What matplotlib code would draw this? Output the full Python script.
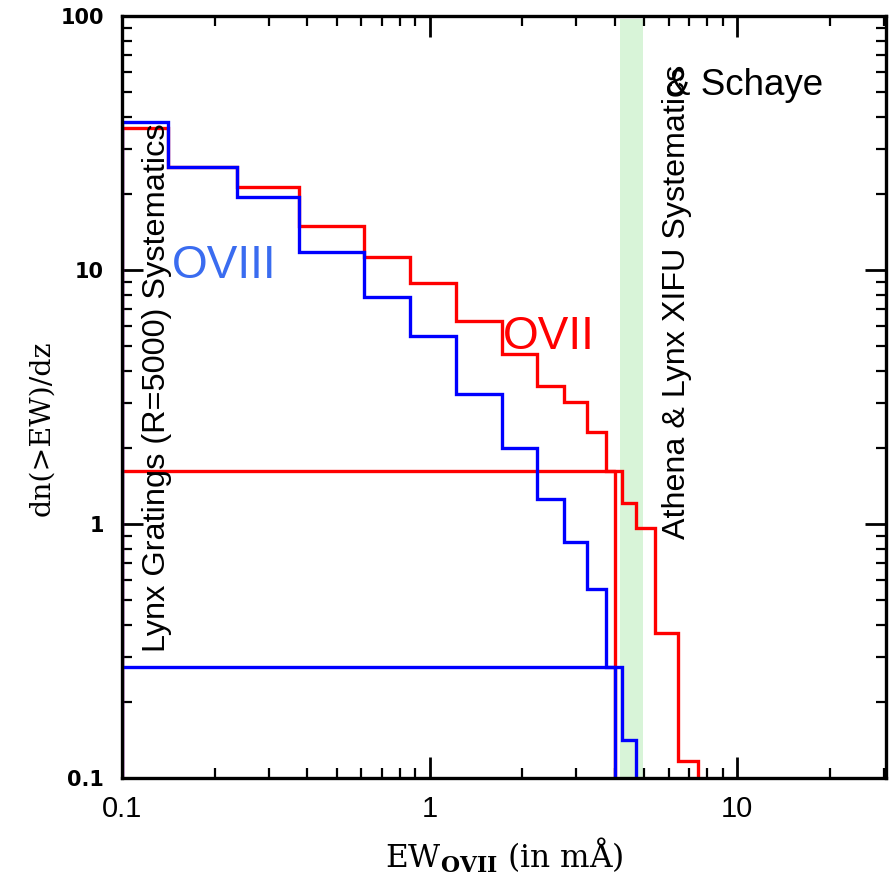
import numpy as np
import matplotlib
matplotlib.use("Agg")
import matplotlib.pyplot as plt
from matplotlib.ticker import LogLocator, NullFormatter, FixedLocator, FixedFormatter

plt.rcParams["mathtext.fontset"] = "dejavuserif"

# ---- data ----
bin_edges = [0.1, 0.1416, 0.2366, 0.376, 0.613, 0.866, 1.223, 1.72, 2.23,
             2.74, 3.25, 3.74, 4.22, 4.70, 5.41, 6.45, 7.46]
ovii_dndz = [36.3, 25.5, 21.2, 14.9, 11.3, 8.91, 6.31, 4.67, 3.50, 3.01,
             2.31, 1.62, 1.21, 0.962, 0.371, 0.1167]
oviii_dndz = [38.1, 25.5, 19.4, 11.8, 7.85, 5.5, 3.24, 1.99, 1.25, 0.847,
              0.555, 0.274, 0.141]
threshold_ew = 4.0
ovii_at_threshold = 1.62
oviii_at_threshold = 0.274
xifu_band = [4.15, 4.93]
xifu_band_top = 97.0

xticks = [0.1, 1, 10]
xtick_labels = ["0.1", "1", "10"]
yticks = [0.1, 1, 10, 100]
ytick_labels = ["0.1", "1", "10", "100"]

fig = plt.figure(figsize=(8.94, 8.74), dpi=100)
ax = fig.add_axes([122/894, 1-778/874, 764/894, 762/874])
ax.set_xscale("log")
ax.set_yscale("log")
ax.set_xlim(0.1, 30.5)
ax.set_ylim(0.1, 100)

# green band
ax.fill_between(xifu_band, [0.1, 0.1], [xifu_band_top, xifu_band_top],
                color="#d8f4d8", lw=0, zorder=1)

lw = 2.4
nb = len(oviii_dndz)
ax.stairs(ovii_dndz, bin_edges, baseline=1e-3, color="#ff0000", lw=lw, zorder=3)
ax.stairs(oviii_dndz, bin_edges[:nb+1], baseline=1e-3, color="#0000ff", lw=lw, zorder=4)

# threshold lines
ax.plot([0.1, threshold_ew, threshold_ew], [ovii_at_threshold, ovii_at_threshold, 1e-3],
        color="#ff0000", lw=lw, zorder=3)
ax.plot([0.1, threshold_ew, threshold_ew], [oviii_at_threshold, oviii_at_threshold, 1e-3],
        color="#0000ff", lw=lw, zorder=4)

# ticks
ax.xaxis.set_major_locator(FixedLocator(xticks))
ax.xaxis.set_major_formatter(FixedFormatter(xtick_labels))
ax.yaxis.set_major_locator(FixedLocator(yticks))
ax.yaxis.set_major_formatter(FixedFormatter(ytick_labels))
ax.xaxis.set_minor_locator(LogLocator(base=10, subs=np.arange(2, 10)))
ax.yaxis.set_minor_locator(LogLocator(base=10, subs=np.arange(2, 10)))
ax.xaxis.set_minor_formatter(NullFormatter())
ax.yaxis.set_minor_formatter(NullFormatter())
ax.tick_params(which="both", direction="in", top=True, right=True, color="black")
ax.tick_params(which="major", length=15, width=2.0)
ax.tick_params(which="minor", length=7, width=1.6)
ax.tick_params(axis="x", which="major", pad=12, labelsize=21)
ax.tick_params(axis="y", which="major", pad=13, labelsize=15)
for lab in ax.get_xticklabels():
    lab.set_family(["Liberation Sans Narrow", "Liberation Sans"])
    lab.set_fontstretch("condensed")
for lab in ax.get_yticklabels():
    lab.set_family("DejaVu Sans")
    lab.set_fontweight("bold")
for sp in ax.spines.values():
    sp.set_linewidth(2.4)
    sp.set_zorder(10)

ax.set_xlabel(r"EW$_{\mathbf{OVII}}$ (in mÅ)", fontsize=22.5, family="DejaVu Serif")
ax.xaxis.set_label_coords(0.501, -0.101)
ax.xaxis.label.set_va("center")
ax.set_ylabel("dn(>EW)/dz", fontsize=20.5, family="DejaVu Serif")
ax.yaxis.set_label_coords(-0.105, 0.459)
ax.yaxis.label.set_va("center")

tf = ["Liberation Sans", "DejaVu Sans"]
ax.text(0.0458, 0.512, "Lynx Gratings (R=5000) Systematics", rotation=90,
        ha="center", va="center", fontsize=23.4, family=tf, transform=ax.transAxes, zorder=5)
ax.text(0.7264, 0.625, "Athena & Lynx XIFU Systematics", rotation=90,
        ha="center", va="center", fontsize=23.2, family=tf, transform=ax.transAxes, zorder=5)
ax.text(0.712, 0.896, "& Schaye", ha="left", va="baseline", fontsize=26.5,
        family=tf, transform=ax.transAxes, zorder=5)
ax.text(0.0654, 0.672, "OVIII", ha="left", va="center", fontsize=33, color="#3a6cf0",
        family=tf, transform=ax.transAxes, zorder=5)
ax.text(0.4987, 0.579, "OVII", ha="left", va="center", fontsize=33, color="#ff0000",
        family=tf, transform=ax.transAxes, zorder=5)

fig.savefig("out.png", dpi=100)
